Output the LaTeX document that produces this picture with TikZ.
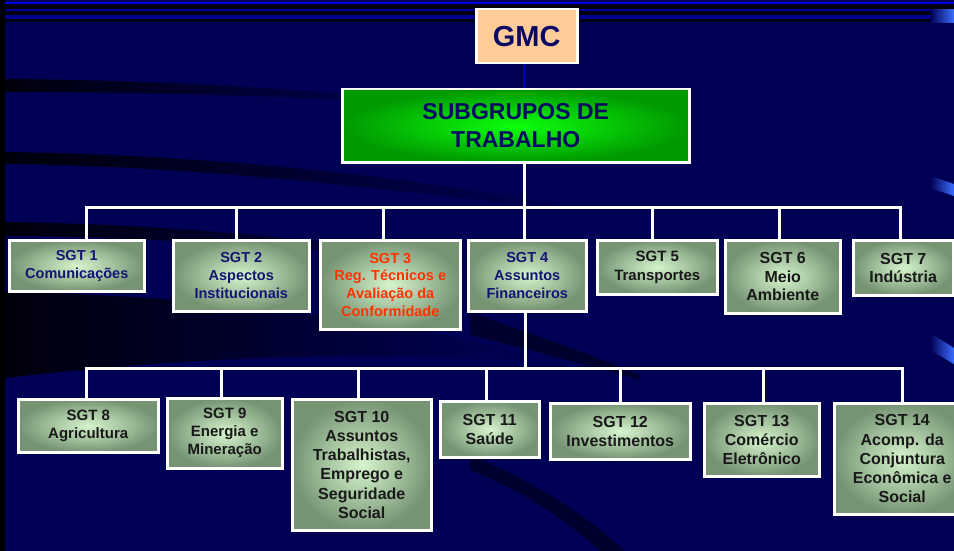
\documentclass[tikz,border=0pt]{standalone}
\usepackage{fontspec}
\setmainfont{Liberation Sans}
\usetikzlibrary{fadings,positioning}
\definecolor{fundo}{RGB}{0,0,84}
\definecolor{tinta}{RGB}{10,10,100}
\definecolor{azulsgt}{RGB}{20,20,115}
\definecolor{laranja}{RGB}{255,51,0}
\definecolor{pessego}{RGB}{255,204,153}
\definecolor{claro}{RGB}{214,245,205}
\definecolor{escuro}{RGB}{118,148,116}
\definecolor{brilho}{RGB}{60,110,255}
\tikzstyle{sgt}=[
	draw=white,
	line width=2.5,
	align=center,
	rectangle,
	anchor=north west,
	inner sep=0,
	inner color=claro,
	outer color=escuro,
	text=black!90,
	font=\bfseries\fontsize{16}{19.2}\selectfont]
\tikzstyle{sgtalto}=[
	sgt,
	font=\bfseries\fontsize{14.5}{17.8}\selectfont]
\tikzstyle{gmc}=[
	draw=white,
	line width=2.5,
	rectangle,
	anchor=north west,
	inner sep=0,
	fill=pessego,
	text=tinta,
	font=\bfseries\fontsize{29}{34}\selectfont]
\tikzstyle{subgr}=[
	draw=white,
	line width=2.5,
	align=center,
	rectangle,
	anchor=north west,
	inner sep=0,
	inner color=green!95!white,
	outer color=green!60!black,
	text=tinta,
	font=\bfseries\fontsize{23}{28}\selectfont]
\tikzstyle{ramo}=[
	draw=white,
	line width=3]
\tikzstyle{elo}=[
	draw=blue!55!fundo,
	line width=1.2]

\begin{document}
\begin{tikzpicture}[x=1pt,y=-1pt]
	\useasboundingbox (0,0) rectangle (954,551);
	\clip (0,0) rectangle (954,551);
	\begin{scope}
		\fill[fundo] (0,0) rectangle (954,551);
		\fill[black!80!fundo] (5,4) rectangle (954,22);
		\fill[blue!90!black] (5,2) rectangle (954,4);
		\fill[blue!45!fundo] (5,9.5) rectangle (954,11);
		\fill[blue!35!fundo] (5,15) rectangle (954,19);
		\fill[fundo] (5,22) rectangle (954,24);
		\begin{scope}[opacity=.85]
			\fill[black,path fading=east] (5,79) .. controls (150,80) and (300,88) .. (430,102) -- (430,105) .. controls (300,96) and (150,92) .. (5,92) -- cycle;
			\fill[black,path fading=east] (5,152) .. controls (200,155) and (380,172) .. (580,208) -- (580,212) .. controls (380,188) and (200,166) .. (5,164) -- cycle;
			\fill[black,path fading=east] (5,222) .. controls (160,224) and (330,238) .. (520,268) -- (520,272) .. controls (330,250) and (160,236) .. (5,236) -- cycle;
			\fill[black,path fading=east] (5,292) .. controls (200,296) and (360,315) .. (520,350) -- (520,360) .. controls (330,350) and (160,360) .. (5,378) -- cycle;
		\end{scope}
		\begin{scope}[opacity=.45]
			\fill[black] (470,312) .. controls (520,330) and (580,350) .. (640,375) -- (640,380) .. controls (570,360) and (510,345) .. (470,335) -- cycle;
			\fill[black] (470,455) .. controls (530,480) and (580,510) .. (625,551) -- (600,551) .. controls (560,515) and (520,490) .. (470,470) -- cycle;
		\end{scope}
		\shade[left color=fundo,right color=brilho] (930,10) rectangle (954,23);
		\shade[left color=fundo,right color=brilho] (930,176) -- (954,184) -- (954,196) -- (930,188) -- cycle;
		\shade[left color=fundo,right color=brilho] (930,333) -- (954,348) -- (954,364) -- (930,350) -- cycle;
		\fill[black] (0,0) rectangle (5,551);
	\end{scope}
	\begin{scope}
		\node[gmc,minimum width=101,minimum height=54] (gmc) at (475,8) {GMC};
		\node[subgr,minimum width=347,minimum height=73] (subgr) at (341,88) {SUBGRUPOS DE\\TRABALHO};
		\coordinate (bus1) at (524,207);
		\coordinate (bus2) at (525,368);
	\end{scope}
	\begin{scope}
		\node[sgtalto,minimum width=135,minimum height=51,text=azulsgt] (sgt1) at (8,239) {SGT 1\\Comunicações};
		\node[sgtalto,minimum width=136,minimum height=71,text=azulsgt] (sgt2) at (172,239) {SGT 2\\Aspectos\\Institucionais};
		\node[sgtalto,minimum width=140,minimum height=89,text=laranja] (sgt3) at (319,239) {SGT 3\\Reg. Técnicos e\\Avaliação da\\Conformidade};
		\node[sgtalto,minimum width=118,minimum height=71,text=azulsgt] (sgt4) at (467,239) {SGT 4\\Assuntos\\Financeiros};
		\node[sgt,minimum width=120,minimum height=54,font=\bfseries\fontsize{15}{18.5}\selectfont] (sgt5) at (596,239) {SGT 5\\Transportes};
		\node[sgt,minimum width=115,minimum height=73,font=\bfseries\fontsize{16}{18.5}\selectfont] (sgt6) at (724,239) {SGT 6\\Meio\\Ambiente};
		\node[sgt,minimum width=100,minimum height=55,font=\bfseries\fontsize{16}{18.5}\selectfont] (sgt7) at (852,239) {SGT 7\\Indústria};
	\end{scope}
	\begin{scope}
		\node[sgt,minimum width=140,minimum height=53,font=\bfseries\fontsize{15}{18.5}\selectfont] (sgt8) at (17,398) {SGT 8\\Agricultura};
		\node[sgt,minimum width=115,minimum height=70,font=\bfseries\fontsize{15}{18}\selectfont] (sgt9) at (166,397) {SGT 9\\Energia e\\Mineração};
		\node[sgt,minimum width=139,minimum height=131] (sgt10) at (291,398) {SGT 10\\Assuntos\\Trabalhistas,\\Emprego e\\Seguridade\\Social};
		\node[sgt,minimum width=99,minimum height=56] (sgt11) at (439,400) {SGT 11\\Saúde};
		\node[sgt,minimum width=140,minimum height=56] (sgt12) at (549,402) {SGT 12\\Investimentos};
		\node[sgt,minimum width=115,minimum height=73] (sgt13) at (703,402) {SGT 13\\Comércio\\Eletrônico};
		\node[sgt,minimum width=136,minimum height=111] (sgt14) at (833,402) {SGT 14\\Acomp. da\\Conjuntura\\Econômica e\\Social};
	\end{scope}
	\draw[elo] (gmc.south -| bus1) -- (subgr.north -| bus1);
	\draw[ramo] (subgr.south -| bus1) -- (bus1);
	\draw[ramo] ([xshift=10]sgt1.north) |- (bus1);
	\draw[ramo] ([xshift=-5]sgt2.north) |- (bus1);
	\draw[ramo] ([xshift=-7]sgt3.north) |- (bus1);
	\draw[ramo] (bus1) -- (bus1 |- sgt4.north);
	\draw[ramo] ([xshift=-5]sgt5.north) |- (bus1);
	\draw[ramo] ([xshift=-3]sgt6.north) |- (bus1);
	\draw[ramo] ([xshift=-3]sgt7.north) |- (bus1);
	\draw[ramo] (sgt4.south -| bus2) -- (bus2);
	\draw[ramo] ([xshift=-2]sgt8.north) |- (bus2);
	\draw[ramo] ([xshift=-3]sgt9.north) |- (bus2);
	\draw[ramo] ([xshift=-3]sgt10.north) |- (bus2);
	\draw[ramo] ([xshift=-3]sgt11.north) |- (bus2);
	\draw[ramo] (sgt12.north) |- (bus2);
	\draw[ramo] ([xshift=2]sgt13.north) |- (bus2);
	\draw[ramo] (sgt14.north) |- (bus2);
\end{tikzpicture}
\end{document}
